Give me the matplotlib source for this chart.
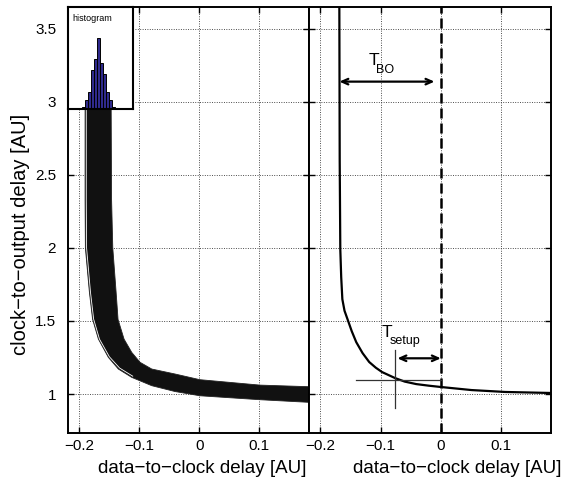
import matplotlib
matplotlib.use("Agg")
import matplotlib.pyplot as plt

plt.rcParams['font.family'] = ['Liberation Sans', 'DejaVu Sans']

# band of simulated curves (left panel): outer edges
band_x_hi = [-0.147, -0.147, -0.1463, -0.1443, -0.1388, -0.1355, -0.1255, -0.1127,
             -0.0988, -0.0793, -0.0405, 0.001, 0.101, 0.183]
band_y_hi = [3.66, 2.95, 2.33, 2.00, 1.70, 1.51, 1.376, 1.285,
             1.217, 1.171, 1.137, 1.098, 1.061, 1.050]
band_x_lo = [-0.1905, -0.1905, -0.190, -0.1833, -0.178, -0.1683, -0.1517, -0.135,
             -0.1127, -0.0793, -0.0405, 0.001, 0.101, 0.183]
band_y_lo = [3.66, 2.33, 2.00, 1.697, 1.512, 1.376, 1.251, 1.171,
             1.114, 1.057, 1.017, 0.988, 0.961, 0.943]

# thin gap line near the left edge of the band
gap_x = [-0.1885, -0.1885, -0.188, -0.1815, -0.1762, -0.1665, -0.1500, -0.1330, -0.1110]
gap_y = [3.66, 2.33, 2.00, 1.697, 1.512, 1.376, 1.255, 1.178, 1.122]

# nominal curve (right panel)
nom_x = [-0.1686, -0.168, -0.167, -0.1655, -0.1636, -0.160, -0.155, -0.148, -0.1405,
         -0.130, -0.119, -0.108, -0.0975, -0.076, -0.060, -0.041, -0.020, 0.0,
         0.051, 0.107, 0.183]
nom_y = [3.66, 2.6, 1.99, 1.80, 1.649, 1.57, 1.512, 1.43, 1.355,
         1.28, 1.219, 1.18, 1.150, 1.109, 1.085, 1.068, 1.057, 1.048,
         1.027, 1.014, 1.007]

# histogram of crossing points
hist_edges = [-0.1955, -0.1905, -0.1855, -0.1805, -0.1755, -0.1705, -0.1655,
              -0.1605, -0.1555, -0.1505, -0.1455, -0.1405]
hist_counts = [4, 24, 50, 114, 147, 207, 134, 102, 50, 24, 4]

xticks = [-0.2, -0.1, 0, 0.1]
yticks = [1, 1.5, 2, 2.5, 3, 3.5]
xlim = (-0.219, 0.183)
ylim = (0.733, 3.65)

t_bo_y = 3.139
t_setup_y = 1.2445
cross_x = -0.076
cross_y = 1.096

fig = plt.figure(figsize=(5.62, 4.84), dpi=100)
ax1 = fig.add_axes([68 / 562, 51 / 484, 241 / 562, 426 / 484])
ax2 = fig.add_axes([309 / 562, 51 / 484, 242 / 562, 426 / 484])

for ax in (ax1, ax2):
    ax.set_xlim(*xlim)
    ax.set_ylim(*ylim)
    ax.set_xticks(xticks)
    ax.set_xticklabels(["\u22120.2", "\u22120.1", "0", "0.1"])
    ax.set_yticks(yticks)
    ax.grid(True, color='#333333', linestyle=':', linewidth=0.65)
    ax.tick_params(direction='in', length=4, width=1, top=True, right=True,
                   labelsize=11)
    ax.tick_params(axis='x', pad=4)
    ax.tick_params(axis='y', pad=8.5)
    for s in ax.spines.values():
        s.set_linewidth(1.4)
    ax.set_xlabel("data\u2212to\u2212clock delay [AU]", fontsize=13.5)
    ax.set_axisbelow(True)

ax1.set_yticklabels(["1", "1.5", "2", "2.5", "3", "3.5"])
ax1.set_ylabel("clock\u2212to\u2212output delay [AU]", fontsize=14.5)
ax1.yaxis.set_label_coords(-0.158, 0.465)
ax1.xaxis.set_label_coords(0.558, -0.064)
ax2.xaxis.set_label_coords(0.612, -0.064)
ax2.tick_params(labelleft=False)

# left: band of curves
ax1.fill(band_x_hi + band_x_lo[::-1], band_y_hi + band_y_lo[::-1],
         color='#111111', linewidth=0.6, edgecolor='#222222', zorder=3)
ax1.plot(gap_x, gap_y, color='white', linewidth=0.6, zorder=4)

# histogram inset
axh = fig.add_axes([68 / 562, (484 - 108.5) / 484, 65 / 562, 101.5 / 484])
axh.hist(hist_edges[:-1], bins=hist_edges, weights=hist_counts,
         color='#2f2a8c', edgecolor='black', linewidth=0.7)
axh.set_xlim(-0.219, -0.1105)
axh.set_ylim(0, 300)
axh.set_xticks([])
axh.set_yticks([])
for s in axh.spines.values():
    s.set_linewidth(1.5)
axh.text(0.07, 0.93, "histogram", transform=axh.transAxes, fontsize=6.5,
         va='top', ha='left')

# right: nominal curve and annotations
ax2.plot(nom_x, nom_y, color='black', linewidth=1.6, zorder=3)
ax2.axvline(0, color='black', linewidth=1.8, linestyle=(0, (4, 2)), zorder=3)

ax2.plot([-0.141, 0], [cross_y, cross_y], color='#333333', linewidth=0.9, zorder=3)
ax2.plot([cross_x, cross_x], [0.902, 1.301], color='#333333', linewidth=0.9, zorder=3)

arrow = dict(arrowstyle='<->,head_length=0.45,head_width=0.2', color='black',
             linewidth=1.6, shrinkA=0, shrinkB=0)
ax2.annotate("", xy=(-0.0105, t_bo_y), xytext=(-0.1686, t_bo_y), arrowprops=arrow)
ax2.annotate("", xy=(0, t_setup_y), xytext=(-0.0722, t_setup_y), arrowprops=arrow)

ax2.text(-0.1207, 3.253, "T", fontsize=12.5, ha='left', va='baseline')
ax2.text(-0.1074, 3.199, "BO", fontsize=9, ha='left', va='baseline')
ax2.text(-0.098, 1.3925, "T", fontsize=12.5, ha='left', va='baseline')
ax2.text(-0.0848, 1.3425, "setup", fontsize=9, ha='left', va='baseline')

fig.savefig("out.png", dpi=100)
